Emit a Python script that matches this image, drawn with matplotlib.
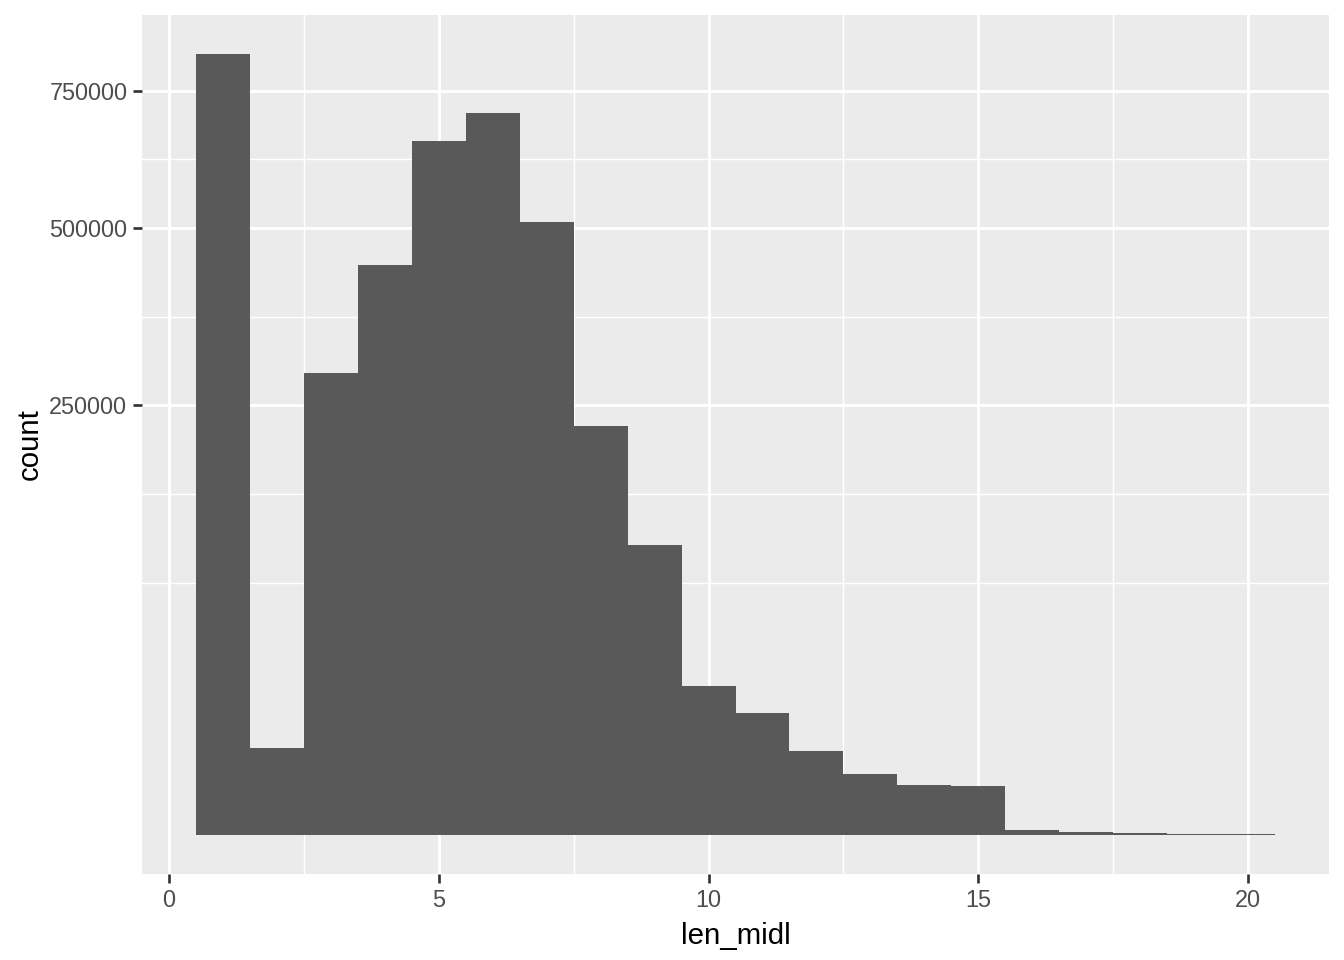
import numpy as np
import matplotlib.pyplot as plt
from matplotlib.ticker import FixedLocator

plt.rcParams['font.family'] = ['Liberation Sans', 'DejaVu Sans']

# histogram of len_midl, binwidth 1, sqrt y scale
bin_centers = list(range(1, 21))
counts = [826500, 10300, 288700, 439800, 652400, 706100, 508800, 227200, 114200, 30200,
          20200, 9600, 5050, 3400, 3260, 38, 15, 7, 2, 2]
y_breaks = [250000, 500000, 750000]
x_breaks = [0, 5, 10, 15, 20]


def fwd(v):
    return np.sign(v) * np.sqrt(np.abs(v))


def inv(v):
    return np.sign(v) * v ** 2


fig = plt.figure(figsize=(7, 5), dpi=192)
ax = fig.add_axes([142 / 1344, 1 - 874 / 960, (1329 - 142) / 1344, (874 - 15) / 960])
ax.set_facecolor('#EBEBEB')
ax.set_yscale('function', functions=(fwd, inv))

ax.bar(bin_centers, counts, width=1.0, color='#595959', linewidth=0, zorder=3)

# limits with ggplot-like 5% expansion in transformed space
top = np.sqrt(max(counts)) * 1.05
pad = np.sqrt(max(counts)) * 0.05
ax.set_ylim(-pad ** 2, top ** 2)
ax.set_xlim(-0.5, 21.5)

# minor breaks in sqrt space
s = np.sqrt(y_breaks)
s_ext = np.concatenate([[s[0] - (s[1] - s[0])], s])
minor_s = list(s_ext[:1]) + list((s_ext[:-1] + s_ext[1:]) / 2)
y_minor = [v ** 2 for v in minor_s]
x_minor = [2.5, 7.5, 12.5, 17.5]

for v in y_minor:
    ax.axhline(v, color='white', lw=0.55, zorder=1)
for v in y_breaks:
    ax.axhline(v, color='white', lw=1.1, zorder=1)
for v in x_minor:
    ax.axvline(v, color='white', lw=0.55, zorder=1)
for v in x_breaks:
    ax.axvline(v, color='white', lw=1.1, zorder=1)

ax.yaxis.set_major_locator(FixedLocator(y_breaks))
ax.yaxis.set_minor_locator(FixedLocator([]))
ax.set_yticklabels([str(v) for v in y_breaks])
ax.xaxis.set_major_locator(FixedLocator(x_breaks))
ax.set_xticklabels([str(v) for v in x_breaks])

for sp in ax.spines.values():
    sp.set_visible(False)
ax.tick_params(axis='both', colors='#333333', length=3.5, width=1.0, labelsize=8.8,
               labelcolor='#4D4D4D', pad=2)

ax.set_xlabel('len_midl', fontsize=11, labelpad=4)
ax.set_ylabel('count', fontsize=11, va='center')
ax.yaxis.set_label_coords((30 - 142) / 1187, 0.5)

fig.savefig('out.png', dpi=192)
